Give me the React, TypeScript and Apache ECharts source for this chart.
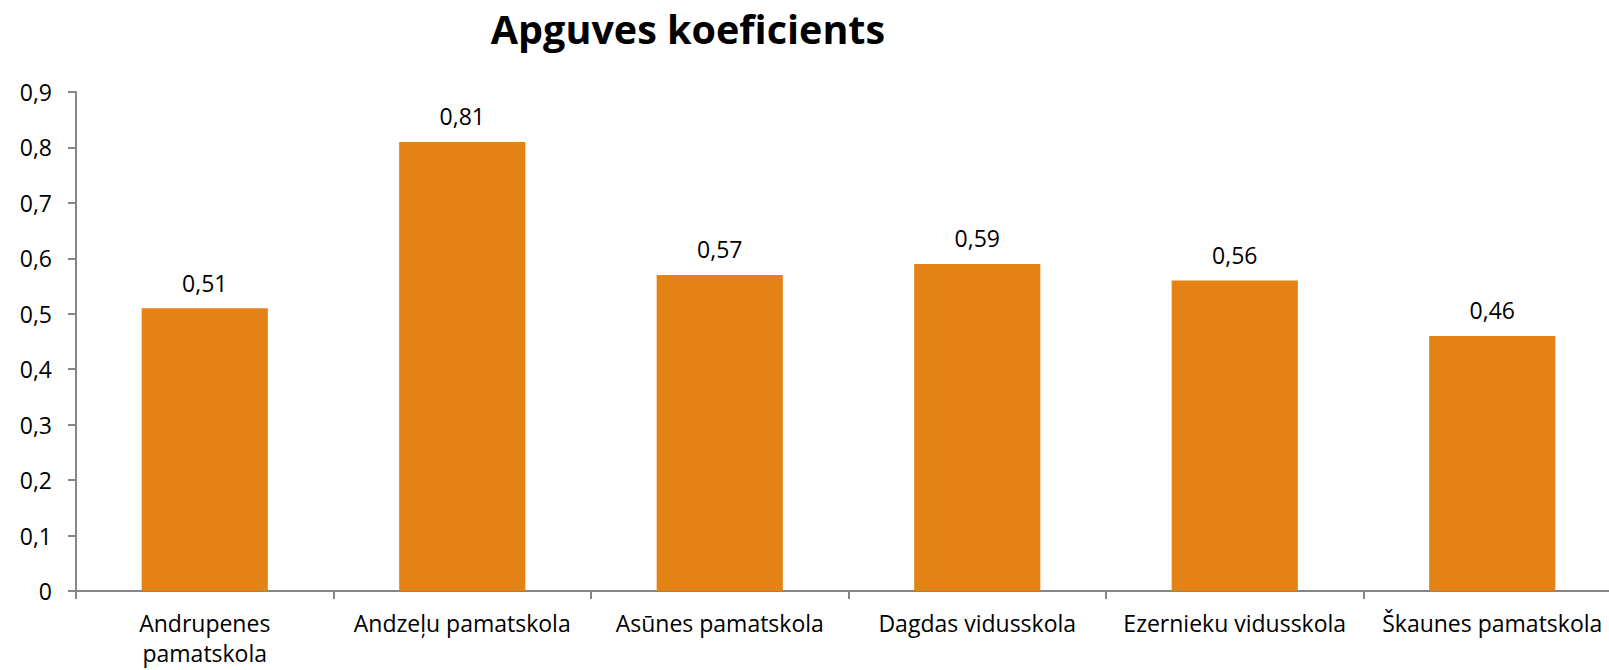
import React, { useEffect, useRef } from "react";
import * as echarts from "echarts";

const title = "Apguves koeficients";
const categories = [
  "Andrupenes\npamatskola",
  "Andzeļu pamatskola",
  "Asūnes pamatskola",
  "Dagdas vidusskola",
  "Ezernieku vidusskola",
  "Škaunes pamatskola",
];
const values = [0.51, 0.81, 0.57, 0.59, 0.56, 0.46];

const fmt = (v: number) => String(Math.round(v * 100) / 100).replace(".", ",");

export default function App() {
  const ref = useRef<HTMLDivElement>(null);
  useEffect(() => {
    if (!ref.current) return;
    const chart = echarts.init(ref.current, undefined, { renderer: "svg" });
    const font = "'Open Sans', Lato, sans-serif";
    chart.setOption({
      animation: false,
      backgroundColor: "#ffffff",
      title: {
        text: title,
        left: 683,
        top: 4,
        textAlign: "center",
        textStyle: { fontFamily: font, fontWeight: "bold", fontSize: 39.5, color: "#000" },
      },
      grid: {
        left: 76,
        top: 92,
        right: -12,
        bottom: 79,
        containLabel: false,
        outerBoundsMode: "none",
      },
      xAxis: {
        type: "category",
        data: categories,
        axisLine: { lineStyle: { color: "#868686", width: 2 } },
        axisTick: { show: true, length: 8, lineStyle: { color: "#868686", width: 2 } },
        axisLabel: {
          interval: 0,
          margin: 17,
          color: "#000",
          fontFamily: font,
          fontSize: 23,
          lineHeight: 30,
          hideOverlap: false,
        },
      },
      yAxis: {
        type: "value",
        min: 0,
        max: 0.9,
        interval: 0.1,
        splitLine: { show: false },
        axisLine: { show: true, lineStyle: { color: "#868686", width: 2 } },
        axisTick: { show: true, length: 8, lineStyle: { color: "#868686", width: 2 } },
        axisLabel: {
          margin: 24,
          color: "#000",
          fontFamily: font,
          fontSize: 23,
          formatter: (v: number) => fmt(v),
        },
      },
      series: [
        {
          type: "bar",
          data: values,
          barWidth: "49%",
          itemStyle: { color: "#E48215" },
          label: {
            show: true,
            position: "top",
            distance: 14,
            color: "#000",
            fontFamily: font,
            fontSize: 23,
            formatter: (p: any) => fmt(p.value),
          },
        },
      ],
    });
    return () => chart.dispose();
  }, []);
  return (
    <div
      ref={ref}
      style={{ position: "absolute", left: 0, top: 0, width: 1609, height: 670, overflow: "hidden" }}
    />
  );
}
